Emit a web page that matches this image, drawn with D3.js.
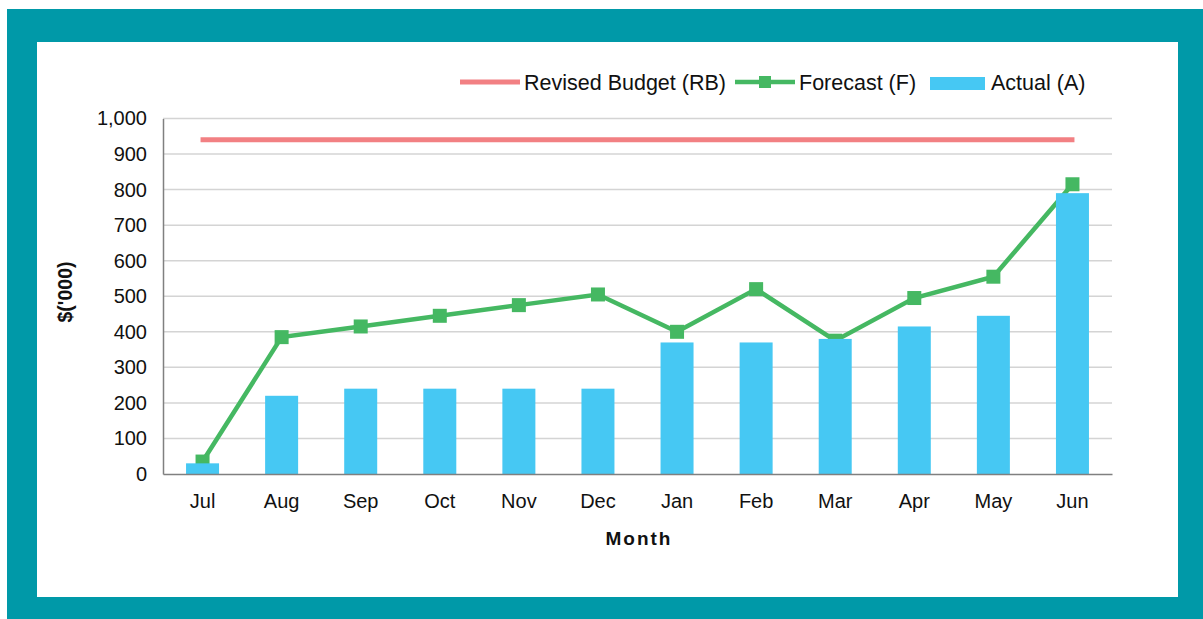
<!DOCTYPE html>
<html>
  <head>
    <meta charset="utf-8" />
    <script src="https://d3js.org/d3.v7.min.js"></script>
    <style>
      body {
        margin: 0;
        background: #fff;
        font-family: "Liberation Sans", Arial, sans-serif;
      }
      svg {
        display: block;
      }
      .grid line {
        stroke: #d4d4d4;
        stroke-width: 1.5px;
      }
      .axis text {
        font-size: 20px;
        fill: #111;
        font-family: "Liberation Sans", Arial, sans-serif;
      }
      .legend text {
        font-size: 21.5px;
        fill: #111;
      }
    </style>
  </head>
  <body>
    <svg id="chart" width="1203" height="619"></svg>
    <script>
      // data
      const months = ["Jul", "Aug", "Sep", "Oct", "Nov", "Dec", "Jan", "Feb", "Mar", "Apr", "May", "Jun"];
      const actual = [30, 220, 240, 240, 240, 240, 370, 370, 380, 415, 445, 790];
      const forecast = [35, 385, 415, 445, 475, 505, 400, 520, 375, 495, 555, 815];
      const revisedBudget = [940, 940, 940, 940, 940, 940, 940, 940, 940, 940, 940, 940];
      const yTicks = [0, 100, 200, 300, 400, 500, 600, 700, 800, 900, 1000];

      const svg = d3.select("#chart");

      // teal frame
      svg.append("rect").attr("x", 7).attr("y", 9).attr("width", 1196).attr("height", 610).attr("fill", "#0099a8");
      svg.append("rect").attr("x", 37).attr("y", 42).attr("width", 1141).attr("height", 555).attr("fill", "#fff");

      const plotLeft = 163, plotRight = 1112, plotTop = 118.5, plotBottom = 474;

      const x = d3.scaleBand().domain(months).range([plotLeft, plotRight]).paddingInner(0).paddingOuter(0);
      const y = d3.scaleLinear().domain([0, 1000]).range([plotBottom, plotTop]);
      const cx = (m) => x(m) + x.bandwidth() / 2;

      // gridlines
      svg.append("g")
        .attr("class", "grid")
        .selectAll("line")
        .data(yTicks.filter((d) => d > 0))
        .join("line")
        .attr("x1", plotLeft)
        .attr("x2", plotRight)
        .attr("y1", (d) => y(d))
        .attr("y2", (d) => y(d));

      // y axis
      const yAxis = svg.append("g")
        .attr("class", "axis")
        .attr("transform", `translate(${plotLeft},0)`)
        .call(d3.axisLeft(y).tickValues(yTicks).tickSize(0).tickPadding(16).tickFormat(d3.format(",")));
      yAxis.attr("font-family", null).attr("font-size", null);
      yAxis.select(".domain").attr("stroke", "#808080").attr("stroke-width", 1.5);

      // revised budget line
      svg.append("line")
        .attr("x1", cx(months[0]) - 2)
        .attr("x2", cx(months[months.length - 1]) + 2)
        .attr("y1", y(revisedBudget[0]))
        .attr("y2", y(revisedBudget[0]))
        .attr("stroke", "#f28083")
        .attr("stroke-width", 5);

      // forecast line + markers
      const fc = months.map((m, i) => ({ m: m, v: forecast[i] }));
      svg.append("path")
        .datum(fc)
        .attr("fill", "none")
        .attr("stroke", "#45b862")
        .attr("stroke-width", 4.5)
        .attr("d", d3.line().x((d) => cx(d.m)).y((d) => y(d.v)));
      svg.append("g")
        .selectAll("rect")
        .data(fc)
        .join("rect")
        .attr("x", (d) => cx(d.m) - 7)
        .attr("y", (d) => y(d.v) - 7)
        .attr("width", 14)
        .attr("height", 14)
        .attr("fill", "#45b862");

      // actual bars (drawn over the line)
      const bw = 33;
      svg.append("g")
        .selectAll("rect")
        .data(actual)
        .join("rect")
        .attr("x", (d, i) => cx(months[i]) - bw / 2)
        .attr("y", (d) => y(d))
        .attr("width", bw)
        .attr("height", (d) => y(0) - y(d))
        .attr("fill", "#46c8f3");

      // x axis
      const xAxis = svg.append("g")
        .attr("class", "axis")
        .attr("transform", `translate(0,${plotBottom})`)
        .call(d3.axisBottom(x).tickSize(0).tickPadding(20));
      xAxis.attr("font-family", null).attr("font-size", null);
      xAxis.select(".domain").attr("stroke", "#808080").attr("stroke-width", 1.5);

      // axis titles
      svg.append("text")
        .attr("x", 639)
        .attr("y", 545)
        .attr("text-anchor", "middle")
        .attr("font-size", 19)
        .attr("font-weight", "bold")
        .attr("letter-spacing", "2px")
        .attr("fill", "#111")
        .text("Month");
      svg.append("text")
        .attr("transform", "translate(72,292) rotate(-90)")
        .attr("text-anchor", "middle")
        .attr("font-size", 19.5)
        .attr("font-weight", "bold")
        .attr("fill", "#111")
        .text("$('000)");

      // legend
      const lg = svg.append("g").attr("class", "legend");
      lg.append("line").attr("x1", 460).attr("x2", 520).attr("y1", 82).attr("y2", 82)
        .attr("stroke", "#f28083").attr("stroke-width", 5);
      lg.append("text").attr("x", 524).attr("y", 90).text("Revised Budget (RB)");
      lg.append("line").attr("x1", 735).attr("x2", 795).attr("y1", 82).attr("y2", 82)
        .attr("stroke", "#45b862").attr("stroke-width", 4.5);
      lg.append("rect").attr("x", 759).attr("y", 76).attr("width", 12).attr("height", 12).attr("fill", "#45b862");
      lg.append("text").attr("x", 799).attr("y", 90).text("Forecast (F)");
      lg.append("rect").attr("x", 930).attr("y", 77).attr("width", 55).attr("height", 13).attr("fill", "#46c8f3");
      lg.append("text").attr("x", 991).attr("y", 90).text("Actual (A)");
    </script>
  </body>
</html>
